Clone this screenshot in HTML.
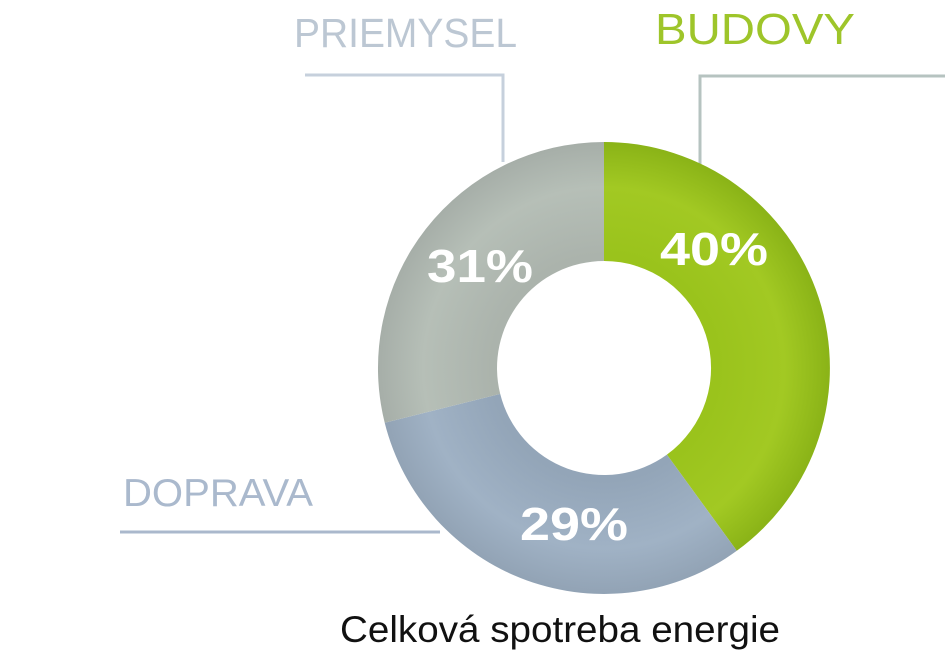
<!DOCTYPE html>
<html><head><meta charset="utf-8"><style>
html,body{margin:0;padding:0;background:#fff;}
svg{display:block;}
</style></head><body>
<svg width="945" height="654" viewBox="0 0 945 654" xmlns="http://www.w3.org/2000/svg" font-family="Liberation Sans, Arial, sans-serif">
<defs>
<radialGradient id="g" cx="604" cy="368" r="226" gradientUnits="userSpaceOnUse">
<stop offset="0.5" stop-color="#9ac31c"/><stop offset="0.8" stop-color="#a2c923"/><stop offset="1" stop-color="#8ab317"/></radialGradient>
<radialGradient id="gr" cx="604" cy="368" r="226" gradientUnits="userSpaceOnUse">
<stop offset="0.5" stop-color="#abb3ac"/><stop offset="0.8" stop-color="#b6bfb7"/><stop offset="1" stop-color="#a6aea8"/></radialGradient>
<radialGradient id="bl" cx="604" cy="368" r="226" gradientUnits="userSpaceOnUse">
<stop offset="0.5" stop-color="#93a5b8"/><stop offset="0.8" stop-color="#a0b2c5"/><stop offset="1" stop-color="#92a3b5"/></radialGradient>
</defs>
<polyline points="305,75 503,75 503,162" fill="none" stroke="#c6d0dc" stroke-width="3"/>
<polyline points="945,76 700,76 700,165" fill="none" stroke="#b6c3c0" stroke-width="3"/>
<line x1="120" y1="532" x2="440" y2="532" stroke="#aab8cc" stroke-width="3"/>
<path d="M604,142 A226,226 0 0 1 736.8,550.8 L666.9,454.6 A107,107 0 0 0 604,261 Z" fill="url(#g)"/>
<path d="M736.8,550.8 A226,226 0 0 1 384.7,422.7 L500.2,393.9 A107,107 0 0 0 666.9,454.6 Z" fill="url(#bl)"/>
<path d="M384.7,422.7 A226,226 0 0 1 604,142 L604,261 A107,107 0 0 0 500.2,393.9 Z" fill="url(#gr)"/>
<g fill="#fff" font-weight="bold" font-size="46">
<text x="660" y="265" textLength="108" lengthAdjust="spacingAndGlyphs">40%</text>
<text x="427" y="282" textLength="106" lengthAdjust="spacingAndGlyphs">31%</text>
<text x="520" y="540" textLength="108" lengthAdjust="spacingAndGlyphs">29%</text>
</g>
<text x="294" y="47" font-size="41" fill="#bcc7d3" textLength="223" lengthAdjust="spacingAndGlyphs">PRIEMYSEL</text>
<text x="655" y="44" font-size="44" fill="#9ec52a" textLength="200" lengthAdjust="spacingAndGlyphs">BUDOVY</text>
<text x="123" y="506" font-size="39" fill="#aab9cd" textLength="190" lengthAdjust="spacingAndGlyphs">DOPRAVA</text>
<text x="340" y="642" font-size="37" fill="#111" textLength="440" lengthAdjust="spacingAndGlyphs">Celková spotreba energie</text>
</svg>
</body></html>
